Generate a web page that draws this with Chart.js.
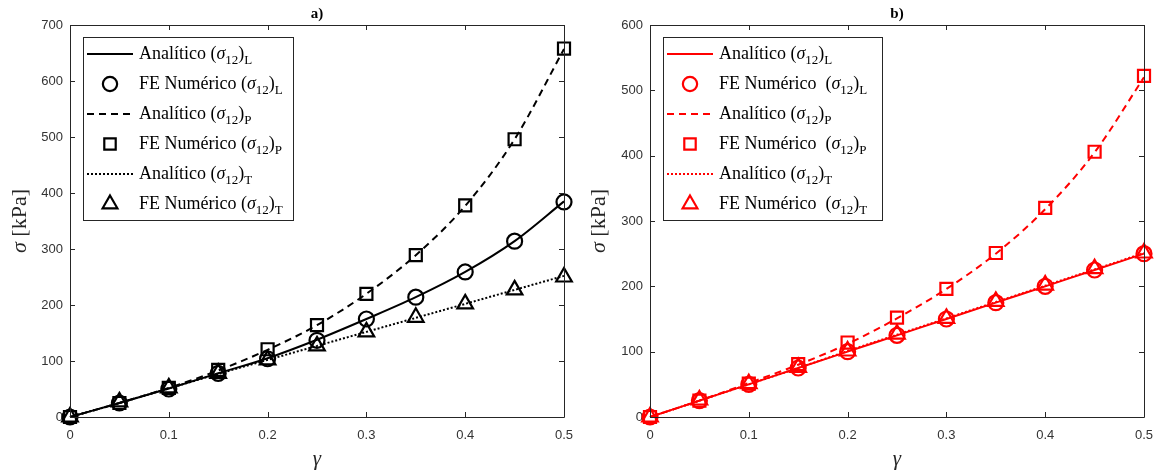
<!DOCTYPE html>
<html>
<head>
<meta charset="utf-8">
<script src="https://cdn.jsdelivr.net/npm/chart.js@4.4.1/dist/chart.umd.min.js"></script>
<style>
  body { margin: 0; background: #fff; }
  #painel { display: flex; width: 1158px; height: 473px; }
  .caixa { position: relative; width: 579px; height: 473px; }
</style>
</head>
<body>
<div id="painel">
  <div class="caixa"><canvas id="graficoA" width="579" height="473"></canvas></div>
  <div class="caixa"><canvas id="graficoB" width="579" height="473"></canvas></div>
</div>
<script>
// deformacao de cisalhamento (gamma)
const gama = [0, 0.05, 0.1, 0.15, 0.2, 0.25, 0.3, 0.35, 0.4, 0.45, 0.5]

// a) tensao sigma12 [kPa]
const analiticoL_a = [0, 25, 51, 78, 105, 138, 175, 214, 259, 314, 385]
const numericoL_a  = [0, 25, 50, 78, 104, 137, 175, 214, 259, 314, 384]
const analiticoP_a = [0, 25, 52, 83, 120, 164, 220, 289, 377, 496, 657]
const numericoP_a  = [0, 25, 52, 84, 121, 164, 220, 289, 378, 496, 658]
const analiticoT_a = [0, 25, 51, 77, 102, 127, 152, 177, 202, 227, 252]
const numericoT_a  = [0, 27, 52, 78, 102, 127, 152, 178, 202, 227, 250]

// b) tensao sigma12 [kPa]
const analiticoL_b = [0, 25, 50, 75, 100, 125, 150, 175, 200, 225, 250]
const numericoL_b  = [0, 25, 50, 75, 100, 125, 150, 175, 200, 225, 250]
const analiticoP_b = [0, 25, 52, 80, 112, 151, 196, 250, 318, 405, 520]
const numericoP_b  = [0, 25, 51, 81, 114, 152, 196, 251, 320, 406, 522]
const analiticoT_b = [0, 25, 50, 75, 101, 126, 151, 176, 201, 226, 251]
const numericoT_b  = [0, 26, 51, 76, 101, 127, 151, 177, 202, 227, 251]

const ticksY_a = { max: 700, passo: 100 }
const ticksY_b = { max: 600, passo: 100 }

const fonteSerif = '"Liberation Serif", "Times New Roman", serif'
const fonteSans = '"Liberation Sans", Arial, sans-serif'
const corEixo = '#262626'
const corTexto = '#333333'

function pares(valores) {
    return gama.map((g, i) => ({ x: g, y: valores[i] }))
}

// escreve pedacos de texto com fontes e deslocamentos diferentes (subscritos)
function escreverTexto(ctx, pedacos, x, y) {
    for (const p of pedacos) {
        ctx.font = p.fonte
        ctx.fillText(p.t, x, y + (p.dy || 0))
        x += ctx.measureText(p.t).width
    }
    return x
}

function textoLegenda(prefixo, indice) {
    return [
        { t: prefixo + '(', fonte: '18px ' + fonteSerif },
        { t: 'σ', fonte: 'italic 18px ' + fonteSerif },
        { t: '12', fonte: '13px ' + fonteSerif, dy: 5 },
        { t: ')', fonte: '18px ' + fonteSerif },
        { t: indice, fonte: '13px ' + fonteSerif, dy: 5 }
    ]
}

const moldura = {
    id: 'moldura',
    afterDraw(chart) {
        const ctx = chart.ctx
        const a = chart.chartArea
        const sx = chart.scales.x
        const sy = chart.scales.y
        const cfg = chart.options.plugins.moldura
        ctx.save()
        ctx.strokeStyle = corEixo
        ctx.lineWidth = 1
        ctx.beginPath()
        ctx.rect(Math.round(a.left) + 0.5, Math.round(a.top) + 0.5, Math.round(a.right - a.left), Math.round(a.bottom - a.top))
        for (const t of sx.ticks) {
            const px = Math.round(sx.getPixelForValue(t.value)) + 0.5
            ctx.moveTo(px, a.bottom); ctx.lineTo(px, a.bottom - 5)
            ctx.moveTo(px, a.top); ctx.lineTo(px, a.top + 5)
        }
        for (const t of sy.ticks) {
            const py = Math.round(sy.getPixelForValue(t.value)) + 0.5
            ctx.moveTo(a.left, py); ctx.lineTo(a.left + 5, py)
            ctx.moveTo(a.right, py); ctx.lineTo(a.right - 5, py)
        }
        ctx.stroke()

        // titulo do painel
        ctx.fillStyle = '#000'
        ctx.textAlign = 'center'
        ctx.textBaseline = 'alphabetic'
        ctx.font = 'bold 15px ' + fonteSerif
        ctx.fillText(cfg.titulo, (a.left + a.right) / 2, 18)

        // rotulo do eixo x
        ctx.fillStyle = corEixo
        ctx.font = 'italic 21px ' + fonteSerif
        ctx.fillText('γ', (a.left + a.right) / 2, 465)

        // rotulo do eixo y
        ctx.translate(26, (a.top + a.bottom) / 2)
        ctx.rotate(-Math.PI / 2)
        ctx.textAlign = 'left'
        const pedacos = [
            { t: 'σ', fonte: 'italic 22px ' + fonteSerif },
            { t: ' [kPa]', fonte: '22px ' + fonteSerif }
        ]
        let largura = 0
        for (const p of pedacos) { ctx.font = p.fonte; largura += ctx.measureText(p.t).width }
        escreverTexto(ctx, pedacos, -largura / 2, 0)
        ctx.restore()
    }
}

const legendaMatlab = {
    id: 'legendaMatlab',
    afterDraw(chart) {
        const cfg = chart.options.plugins.legendaMatlab
        const ctx = chart.ctx
        ctx.save()
        ctx.fillStyle = '#fff'
        ctx.fillRect(cfg.x, cfg.y, cfg.w, cfg.h)
        ctx.strokeStyle = corEixo
        ctx.lineWidth = 1
        ctx.strokeRect(cfg.x + 0.5, cfg.y + 0.5, cfg.w, cfg.h)

        const conjuntos = chart.data.datasets
        for (let i = 0; i < conjuntos.length; i++) {
            const d = conjuntos[i]
            const yc = cfg.y + 17 + i * 30
            ctx.strokeStyle = d.borderColor
            ctx.lineWidth = d.borderWidth
            if (d.showLine) {
                ctx.setLineDash(d.borderDash || [])
                ctx.beginPath()
                ctx.moveTo(cfg.x + 4, yc)
                ctx.lineTo(cfg.x + 50, yc)
                ctx.stroke()
                ctx.setLineDash([])
            } else {
                // marcador vazado, so o contorno
                ctx.fillStyle = 'rgba(0,0,0,0)'
                Chart.helpers.drawPoint(ctx, {
                    pointStyle: d.pointStyle,
                    radius: d.pointRadius * 0.95,
                    borderWidth: d.borderWidth
                }, cfg.x + 27, yc)
            }
            ctx.fillStyle = '#000'
            ctx.textAlign = 'left'
            ctx.textBaseline = 'alphabetic'
            escreverTexto(ctx, d.pedacos, cfg.x + 56, yc + 5)
        }
        ctx.restore()
    }
}

function plotarPainel(id, cor, series, eixoY, titulo, legenda) {
    const nomeNumerico = legenda.duploEspaco ? 'FE Numérico  ' : 'FE Numérico '
    const linha = (valores, tracejado, indice) => ({
        label: 'Analítico (σ12)' + indice,
        pedacos: textoLegenda('Analítico ', indice),
        data: pares(valores),
        showLine: true,
        borderColor: cor,
        borderWidth: 2,
        borderDash: tracejado,
        pointRadius: 0,
        cubicInterpolationMode: 'monotone',
        clip: false
    })
    const marcador = (valores, estilo, raio, indice) => ({
        label: 'FE Numérico (σ12)' + indice,
        pedacos: textoLegenda(nomeNumerico, indice),
        data: pares(valores),
        showLine: false,
        borderColor: cor,
        backgroundColor: 'rgba(0,0,0,0)',
        borderWidth: 2.2,
        pointStyle: estilo,
        pointRadius: raio,
        clip: false
    })

    new Chart(document.getElementById(id), {
        type: 'scatter',
        data: {
            datasets: [
                linha(series[0], [], 'L'),
                marcador(series[1], 'circle', 7.5, 'L'),
                linha(series[2], [7, 5], 'P'),
                marcador(series[3], 'rect', 8.5, 'P'),
                linha(series[4], [2, 2], 'T'),
                marcador(series[5], 'triangle', 9, 'T')
            ]
        },
        options: {
            responsive: false,
            animation: false,
            layout: { padding: { top: 25, right: legenda.direita, left: 0, bottom: 0 } },
            scales: {
                x: {
                    type: 'linear',
                    min: 0, max: 0.5,
                    afterFit: s => { s.height = 56; s.paddingLeft = 0; s.paddingRight = 0 },
                    grid: { display: false, drawTicks: false },
                    border: { display: false },
                    ticks: {
                        stepSize: 0.1,
                        padding: 11,
                        color: corTexto,
                        font: { family: fonteSans, size: 13 },
                        callback: v => String(Math.round(v * 10) / 10)
                    }
                },
                y: {
                    min: 0, max: eixoY.max,
                    afterFit: s => { s.width = legenda.esquerda; s.paddingTop = 0; s.paddingBottom = 0 },
                    grid: { display: false, drawTicks: false },
                    border: { display: false },
                    ticks: {
                        stepSize: eixoY.passo,
                        padding: 7,
                        color: corTexto,
                        font: { family: fonteSans, size: 13 }
                    }
                }
            },
            plugins: {
                legend: { display: false },
                tooltip: { enabled: false },
                moldura: { titulo: titulo },
                legendaMatlab: legenda
            }
        },
        plugins: [moldura, legendaMatlab]
    })
}

plotarPainel('graficoA', '#000000',
    [analiticoL_a, numericoL_a, analiticoP_a, numericoP_a, analiticoT_a, numericoT_a],
    ticksY_a, 'a)',
    { x: 83, y: 37, w: 210, h: 183, esquerda: 70, direita: 15, duploEspaco: false })

plotarPainel('graficoB', '#ff0000',
    [analiticoL_b, numericoL_b, analiticoP_b, numericoP_b, analiticoT_b, numericoT_b],
    ticksY_b, 'b)',
    { x: 84, y: 37, w: 219, h: 183, esquerda: 71, direita: 14, duploEspaco: true })
</script>
</body>
</html>
